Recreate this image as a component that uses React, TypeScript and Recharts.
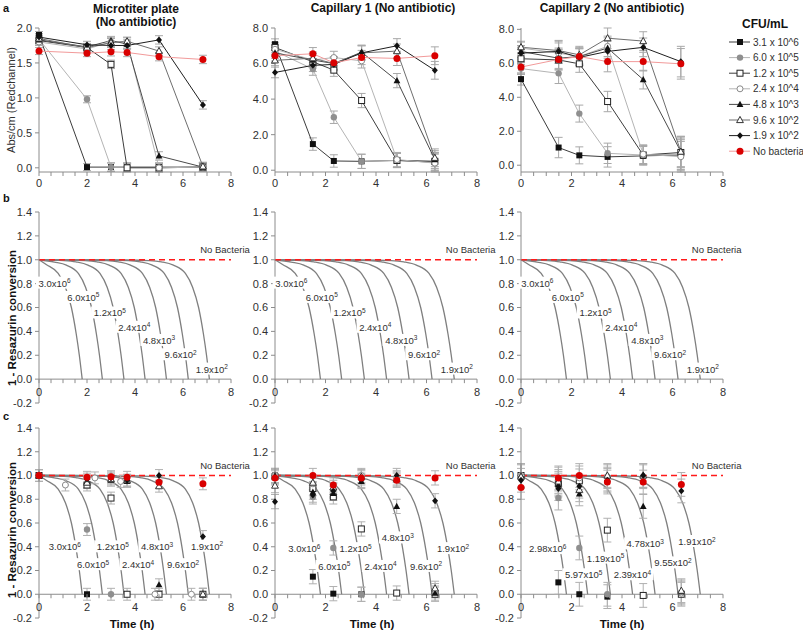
import React from 'react';
import { ComposedChart, Line, Scatter, XAxis, YAxis, ErrorBar, ReferenceLine } from 'recharts';

type Pt = [number, number];

const FONT = '"Liberation Sans", Arial, sans-serif';
const axisColor = '#8c8c8c';
const textColor = '#303030';

// legend / series
const seriesNames = ['3.1 x 10^6', '6.0 x 10^5', '1.2 x 10^5', '2.4 x 10^4', '4.8 x 10^3', '9.6 x 10^2', '1.9 x 10^2', 'No bacteria'];
const markerKinds = ['sq', 'dot', 'osq', 'ocirc', 'tri', 'otri', 'dia', 'red'];
const lineColors = ['#3c3c3c', '#b4b4b4', '#3c3c3c', '#b4b4b4', '#4a4a4a', '#6e6e6e', '#1e1e1e', '#f29a9a'];

// row a: Abs/cm
const timesPlate = [0, 2, 3, 3.67, 5, 6.83];
const absPlate = [
  [1.9, 0.01, 0.01, 0.01, 0.01, 0.01],
  [1.84, 0.98, 0.01, 0.01, 0.01, 0.01],
  [1.82, 1.72, 1.48, 0.0, 0.0, 0.01],
  [1.8, 1.7, 1.8, 1.8, 0.0, 0.01],
  [1.83, 1.73, 1.82, 1.77, 0.17, 0.01],
  [1.85, 1.72, 1.79, 1.81, 1.67, 0.02],
  [1.87, 1.76, 1.75, 1.75, 1.83, 0.9],
  [1.67, 1.64, 1.66, 1.65, 1.59, 1.55],
];
const errPlate = [0.05, 0.05, 0.06, 0.06, 0.06, 0.06];

const timesCap1 = [0, 1.5, 2.33, 3.43, 4.83, 6.33];
const absCap1 = [
  [7.09, 1.47, 0.52, 0.5, 0.55, 0.45],
  [6.7, 5.69, 2.98, 0.5, 0.55, 0.5],
  [6.9, 6.1, 5.63, 3.92, 0.55, 0.5],
  [6.8, 6.2, 6.34, 6.15, 0.6, 0.4],
  [6.6, 6.2, 6.0, 6.64, 5.04, 0.6],
  [6.18, 6.3, 6.0, 6.6, 6.7, 0.7],
  [5.5, 5.9, 5.95, 6.6, 7.0, 5.62],
  [6.44, 6.55, 6.04, 6.34, 6.29, 6.44],
];
const errCap1 = [0.3, 0.35, 0.35, 0.4, 0.4, 0.5];

const timesCap2 = [0, 1.49, 2.31, 3.43, 4.84, 6.33];
const absCap2 = [
  [5.07, 1.04, 0.58, 0.49, 0.55, 0.6],
  [5.69, 5.41, 3.04, 0.7, 0.6, 0.65],
  [6.27, 6.2, 5.97, 3.75, 0.6, 0.75],
  [6.9, 6.6, 6.4, 7.0, 0.65, 0.5],
  [6.7, 6.3, 6.4, 6.9, 5.04, 0.8],
  [6.95, 6.75, 6.5, 7.48, 7.31, 0.8],
  [6.6, 6.7, 6.35, 6.7, 6.94, 6.1],
  [5.78, 6.23, 6.4, 6.1, 6.1, 5.97],
];
const errCap2 = [0.35, 0.6, 0.5, 0.6, 0.55, 0.9];

// rows b, c: model curves (1 - resazurin conversion)
const modelCurves: Pt[][] = [
  [[0, 1], [0.3, 0.96], [0.8, 0.885], [1.1, 0.77], [1.35, 0.6], [1.55, 0.38], [1.68, 0.2], [1.8, 0]],
  [[0, 1], [0.64, 0.98], [1.14, 0.955], [1.64, 0.885], [1.94, 0.77], [2.19, 0.6], [2.39, 0.38], [2.52, 0.2], [2.64, 0]],
  [[0, 1], [1.04, 0.993], [1.54, 0.982], [2.04, 0.955], [2.54, 0.885], [2.84, 0.77], [3.09, 0.6], [3.29, 0.38], [3.42, 0.2], [3.54, 0]],
  [[0, 1], [0.92, 0.998], [1.92, 0.993], [2.42, 0.982], [2.92, 0.955], [3.42, 0.885], [3.72, 0.77], [3.97, 0.6], [4.17, 0.38], [4.3, 0.2], [4.42, 0]],
  [[0, 1], [1.81, 0.998], [2.81, 0.993], [3.31, 0.982], [3.81, 0.955], [4.31, 0.885], [4.61, 0.77], [4.86, 0.6], [5.06, 0.38], [5.19, 0.2], [5.31, 0]],
  [[0, 1], [2.72, 0.998], [3.72, 0.993], [4.22, 0.982], [4.72, 0.955], [5.22, 0.885], [5.52, 0.77], [5.77, 0.6], [5.97, 0.38], [6.1, 0.2], [6.22, 0]],
  [[0, 1], [3.6, 0.998], [4.6, 0.993], [5.1, 0.982], [5.6, 0.955], [6.1, 0.885], [6.4, 0.77], [6.65, 0.6], [6.85, 0.38], [6.98, 0.2], [7.1, 0]],
];
const noBacteriaLine: Pt[] = [[0, 1], [8, 1]];

const curveBases = ['3.0', '6.0', '1.2', '2.4', '4.8', '9.6', '1.9'];
const curveBasesCap2 = ['2.98', '5.97', '1.19', '2.39', '4.78', '9.55', '1.91'];
const curveExps = ['6', '5', '5', '4', '3', '2', '2'];
const labelPosB: Pt[] = [[0.65, 0.8], [1.85, 0.68], [2.95, 0.55], [3.97, 0.43], [5.0, 0.32], [5.9, 0.2], [7.2, 0.08]];
const labelPosC1: Pt[] = [[1.08, 0.395], [2.25, 0.245], [3.08, 0.395], [4.13, 0.245], [4.92, 0.395], [6.0, 0.245], [7.0, 0.4]];
const labelPosC2: Pt[] = [[1.16, 0.38], [2.35, 0.23], [3.19, 0.38], [4.18, 0.23], [4.86, 0.47], [5.98, 0.23], [7.05, 0.38]];
const labelPosC3: Pt[] = [[1.06, 0.38], [2.48, 0.16], [3.35, 0.3], [4.41, 0.16], [4.92, 0.42], [6.02, 0.26], [6.97, 0.44]];
const noBacteriaLabel: Pt = [7.75, 1.08];

// row c measured points
const resaPlate: Pt[][] = [
  [[0, 1.0], [2, 0.0]],
  [[0, 1.0], [2, 0.545], [3, 0.0]],
  [[0, 1.0], [2, 0.92], [3, 0.81], [3.67, 0.0], [5, 0.0], [6.83, 0.0]],
  [[0, 1.0], [1.1, 0.92], [2.33, 0.98], [3.4, 0.95], [4.83, 0.0], [6.35, 0.0]],
  [[0, 1.0], [2, 0.95], [3, 0.96], [3.67, 0.95], [5, 0.08], [6.83, 0.0]],
  [[0, 1.0], [2, 0.94], [3, 0.97], [3.67, 0.96], [5, 0.91], [6.83, 0.0]],
  [[0, 1.0], [2, 0.97], [3, 0.98], [3.67, 0.96], [5, 1.0], [6.83, 0.486]],
  [[0, 1.0], [2, 0.985], [3, 0.99], [3.67, 0.985], [5, 0.944], [6.83, 0.93]],
];
const resaCap1: Pt[][] = [
  [[0, 1.0], [1.5, 0.148], [2.31, 0.005], [3.42, 0.0]],
  [[0, 0.99], [1.5, 0.82], [2.31, 0.39], [3.42, 0.0]],
  [[0, 0.99], [1.5, 0.89], [2.31, 0.82], [3.42, 0.55], [4.82, 0.01], [6.34, 0.0]],
  [[0, 1.0], [1.5, 0.93], [2.31, 0.88], [3.42, 1.0], [4.82, 0.98], [6.34, 0.03]],
  [[0, 1.0], [1.5, 0.86], [2.31, 0.85], [3.42, 0.95], [4.82, 0.74], [6.34, 0.01]],
  [[0, 0.915], [1.5, 0.94], [2.31, 0.9], [3.42, 0.99], [4.82, 0.97], [6.34, 0.05]],
  [[0, 0.78], [1.5, 0.835], [2.31, 0.87], [3.42, 0.96], [4.82, 1.0], [6.34, 0.787]],
  [[0, 0.98], [1.5, 1.0], [2.31, 0.92], [3.42, 0.98], [4.82, 0.96], [6.34, 0.98]],
];
const resaCap2: Pt[][] = [
  [[0, 1.0], [1.48, 0.1], [2.31, 0.0], [3.42, -0.02]],
  [[0, 1.0], [1.48, 0.81], [2.31, 0.39], [3.42, 0.0]],
  [[0, 1.0], [1.48, 0.935], [2.31, 0.955], [3.42, 0.54], [4.84, -0.01], [6.35, 0.0]],
  [[0, 1.0], [1.48, 0.97], [2.31, 0.98], [3.42, 0.99], [4.84, 0.99], [6.35, 0.01]],
  [[0, 1.0], [1.48, 0.92], [2.31, 0.845], [3.42, 0.97], [4.84, 0.74], [6.35, 0.02]],
  [[0, 0.99], [1.48, 0.95], [2.31, 0.88], [3.42, 1.0], [4.84, 1.0], [6.35, 0.03]],
  [[0, 0.96], [1.48, 0.89], [2.31, 0.91], [3.42, 0.96], [4.84, 1.0], [6.35, 0.87]],
  [[0, 0.9], [1.48, 0.98], [2.31, 1.0], [3.42, 0.945], [4.84, 0.945], [6.35, 0.925]],
];
const errResa = [0.05, 0.06, 0.1];

const xTicks = [0, 0.5, 1, 1.5, 2, 2.5, 3, 3.5, 4, 4.5, 5, 5.5, 6, 6.5, 7, 7.5, 8];
const yTicksPlate = [0, 0.5, 1, 1.5, 2];
const yTicksCap = [0, 2, 4, 6, 8];
const yTicksResa = [-0.2, 0, 0.2, 0.4, 0.6, 0.8, 1, 1.2, 1.4];

// plot-area geometry (page px)
const cols = [{ x: 39, w: 192 }, { x: 275, w: 202 }, { x: 521, w: 202 }];
const rowsGeo = [{ y: 28, h: 144 }, { y: 212, h: 191 }, { y: 428, h: 190 }];

const Marker = ({ kind, cx, cy }: { kind: string; cx: number; cy: number }) => {
  if (cx == null || cy == null) return null;
  switch (kind) {
    case 'sq':
      return <rect x={cx - 3} y={cy - 3} width={6} height={6} fill="#111" />;
    case 'dot':
      return <circle cx={cx} cy={cy} r={3.2} fill="#8f8f8f" />;
    case 'osq':
      return <rect x={cx - 3} y={cy - 3} width={6} height={6} fill="#fff" stroke="#222" strokeWidth={1} />;
    case 'ocirc':
      return <circle cx={cx} cy={cy} r={3} fill="#fff" stroke="#8a8a8a" strokeWidth={1} />;
    case 'tri':
      return <polygon points={`${cx},${cy - 3.6} ${cx + 3.4},${cy + 2.6} ${cx - 3.4},${cy + 2.6}`} fill="#111" />;
    case 'otri':
      return <polygon points={`${cx},${cy - 3.6} ${cx + 3.4},${cy + 2.6} ${cx - 3.4},${cy + 2.6}`} fill="#fff" stroke="#333" strokeWidth={1} />;
    case 'dia':
      return <polygon points={`${cx},${cy - 3.4} ${cx + 3},${cy} ${cx},${cy + 3.4} ${cx - 3},${cy}`} fill="#111" />;
    default:
      return <circle cx={cx} cy={cy} r={3.5} fill="#d90000" />;
  }
};

const CurveLabel = (p: any) => {
  const { cx, cy, payload } = p;
  if (cx == null) return null;
  if (payload.plain) {
    return (
      <text x={cx} y={cy + 3} textAnchor="middle" fontSize={9.5} fill={textColor}>
        {payload.plain}
      </text>
    );
  }
  const w = payload.base.length * 4.9 + 6;
  return (
    <g>
      <rect x={cx - w / 2 - 1} y={cy - 7} width={w + 2} height={12} fill="#fff" />
      <text x={cx} y={cy + 3} textAnchor="middle" fontSize={9.5} fill={textColor}>
        {payload.base}
        <tspan dy={-3.5} fontSize={6.5}>{payload.exp}</tspan>
      </text>
    </g>
  );
};

const makeXTick = (shift: number, gap: number) => (props: any) => {
  const { x, y, payload } = props;
  const y0 = y - shift;
  const v = payload.value;
  return (
    <g>
      <line x1={x} x2={x} y1={y0} y2={y0 + 4} stroke={axisColor} />
      {v % 2 === 0 ? (
        <text x={x} y={y0 + gap} textAnchor="middle" fontSize={11} fill={textColor}>
          {v}
        </text>
      ) : null}
    </g>
  );
};

const pts = (list: Pt[], e?: number) => list.map(([t, v]) => ({ t, v, e }));

function panel(key: string, col: number, row: number, yDomain: number[], yTicks: number[], content: React.ReactNode[]) {
  const c = cols[col];
  const r = rowsGeo[row];
  const resa = row > 0;
  const shift = resa ? (r.h * 0.2) / 1.6 : 0;
  return (
    <div key={key} style={{ position: 'absolute', left: c.x - 45, top: r.y - 10 }}>
      <ComposedChart width={c.w + 45 + 24} height={r.h + 35} margin={{ top: 10, right: 24, bottom: 0, left: 0 }}>
        <XAxis
          type="number"
          dataKey="t"
          domain={[0, 8]}
          ticks={xTicks}
          interval={0}
          height={25}
          tickSize={0}
          tickMargin={0}
          tickLine={false}
          axisLine={resa ? false : { stroke: axisColor }}
          tick={makeXTick(shift, resa ? 17 : 15)}
        />
        <YAxis
          type="number"
          domain={yDomain}
          ticks={yTicks}
          interval={0}
          width={45}
          tickSize={4}
          tickMargin={3}
          axisLine={{ stroke: axisColor }}
          tickLine={{ stroke: axisColor }}
          tick={{ fill: textColor, fontSize: 11 }}
          tickFormatter={(v: number) => v.toFixed(1)}
        />
        {resa ? <ReferenceLine y={0} stroke={axisColor} ifOverflow="extendDomain" /> : null}
        {content}
      </ComposedChart>
    </div>
  );
}

function absContent(times: number[], vals: number[][], errs: number[]) {
  return vals.map((series, i) => (
    <Line
      key={`a${i}`}
      data={times.map((t, j) => ({ t, v: series[j], e: errs[j] }))}
      dataKey="v"
      type="linear"
      stroke={lineColors[i]}
      strokeWidth={1}
      isAnimationActive={false}
      dot={(p: any) => <Marker key={`d${i}-${p.index}`} kind={markerKinds[i]} cx={p.cx} cy={p.cy} />}
    >
      <ErrorBar dataKey="e" direction="y" width={4} stroke="#a8a8a8" strokeWidth={1} />
    </Line>
  ));
}

function modelContent(bases: string[], labelPos: Pt[]) {
  const out: React.ReactNode[] = modelCurves.map((curve, i) => (
    <Line key={`m${i}`} data={pts(curve)} dataKey="v" type="monotone" stroke="#7f7f7f" strokeWidth={1.3} dot={false} isAnimationActive={false} />
  ));
  out.push(
    <Line key="nb" data={pts(noBacteriaLine)} dataKey="v" type="linear" stroke="#ff1a1a" strokeWidth={1.6} strokeDasharray="6 4" dot={false} isAnimationActive={false} />
  );
  const labels = labelPos.map(([t, v], i) => ({ t, v, base: `${bases[i]}x10`, exp: curveExps[i] }));
  labels.push({ t: noBacteriaLabel[0], v: noBacteriaLabel[1], plain: 'No Bacteria' } as any);
  out.push(<Scatter key="lbl" data={labels} dataKey="v" isAnimationActive={false} shape={CurveLabel} />);
  return out;
}

function resaContent(bases: string[], labelPos: Pt[], measured: Pt[][], err: number) {
  const out = modelContent(bases, labelPos);
  measured.forEach((series, i) => {
    out.push(
      <Scatter
        key={`s${i}`}
        data={pts(series, err)}
        dataKey="v"
        isAnimationActive={false}
        shape={(p: any) => <Marker kind={markerKinds[i]} cx={p.cx} cy={p.cy} />}
      >
        <ErrorBar dataKey="e" direction="y" width={4} stroke="#b0b0b0" strokeWidth={1} />
      </Scatter>
    );
  });
  return out;
}

const Overlay = () => {
  const bold = { fontWeight: 700 };
  return (
    <svg width={803} height={631} style={{ position: 'absolute', left: 0, top: 0, pointerEvents: 'none' }} fontFamily={FONT}>
      <text x={3} y={12} fontSize={11} fill="#111" style={bold}>a</text>
      <text x={3} y={202} fontSize={11} fill="#111" style={bold}>b</text>
      <text x={3} y={420} fontSize={11} fill="#111" style={bold}>c</text>

      <text x={136} y={13} fontSize={12} textAnchor="middle" fill="#111" style={bold}>Microtiter plate</text>
      <text x={136} y={26} fontSize={12} textAnchor="middle" fill="#111" style={bold}>(No antibiotic)</text>
      <text x={383} y={12} fontSize={12} textAnchor="middle" fill="#111" style={bold}>Capillary 1 (No antibiotic)</text>
      <text x={612} y={12} fontSize={12} textAnchor="middle" fill="#111" style={bold}>Capillary 2 (No antibiotic)</text>

      <text transform="translate(15,100) rotate(-90)" fontSize={11} textAnchor="middle" fill={textColor}>Abs/cm (Redchannel)</text>
      <text transform="translate(16,318) rotate(-90)" fontSize={11.5} textAnchor="middle" fill="#111" style={bold}>1 - Resazurin conversion</text>
      <text transform="translate(16,530) rotate(-90)" fontSize={11.5} textAnchor="middle" fill="#111" style={bold}>1 - Resazurin conversion</text>

      <text x={132} y={628} fontSize={11.5} textAnchor="middle" fill="#111" style={bold}>Time (h)</text>
      <text x={372} y={628} fontSize={11.5} textAnchor="middle" fill="#111" style={bold}>Time (h)</text>
      <text x={622} y={628} fontSize={11.5} textAnchor="middle" fill="#111" style={bold}>Time (h)</text>

      <text x={765} y={28} fontSize={12} textAnchor="middle" fill="#111" style={bold}>CFU/mL</text>
      {seriesNames.map((name, i) => {
        const y = 42 + i * 15.6;
        return (
          <g key={name}>
            <line x1={729} x2={750} y1={y} y2={y} stroke={lineColors[i]} strokeWidth={1} />
            <Marker kind={markerKinds[i]} cx={740} cy={y} />
            <text x={753} y={y + 3.5} fontSize={10} fill={textColor}>{name}</text>
          </g>
        );
      })}
    </svg>
  );
};

export default function App() {
  return (
    <div style={{ position: 'absolute', left: 0, top: 0, width: 803, height: 631, background: '#fff', fontFamily: FONT, overflow: 'hidden' }}>
      {panel('a1', 0, 0, [0, 2], yTicksPlate, absContent(timesPlate, absPlate, errPlate))}
      {panel('a2', 1, 0, [0, 8], yTicksCap, absContent(timesCap1, absCap1, errCap1))}
      {panel('a3', 2, 0, [0, 8], yTicksCap, absContent(timesCap2, absCap2, errCap2))}
      {panel('b1', 0, 1, [-0.2, 1.4], yTicksResa, modelContent(curveBases, labelPosB))}
      {panel('b2', 1, 1, [-0.2, 1.4], yTicksResa, modelContent(curveBases, labelPosB))}
      {panel('b3', 2, 1, [-0.2, 1.4], yTicksResa, modelContent(curveBases, labelPosB))}
      {panel('c1', 0, 2, [-0.2, 1.4], yTicksResa, resaContent(curveBases, labelPosC1, resaPlate, errResa[0]))}
      {panel('c2', 1, 2, [-0.2, 1.4], yTicksResa, resaContent(curveBases, labelPosC2, resaCap1, errResa[1]))}
      {panel('c3', 2, 2, [-0.2, 1.4], yTicksResa, resaContent(curveBasesCap2, labelPosC3, resaCap2, errResa[2]))}
      <Overlay />
    </div>
  );
}
